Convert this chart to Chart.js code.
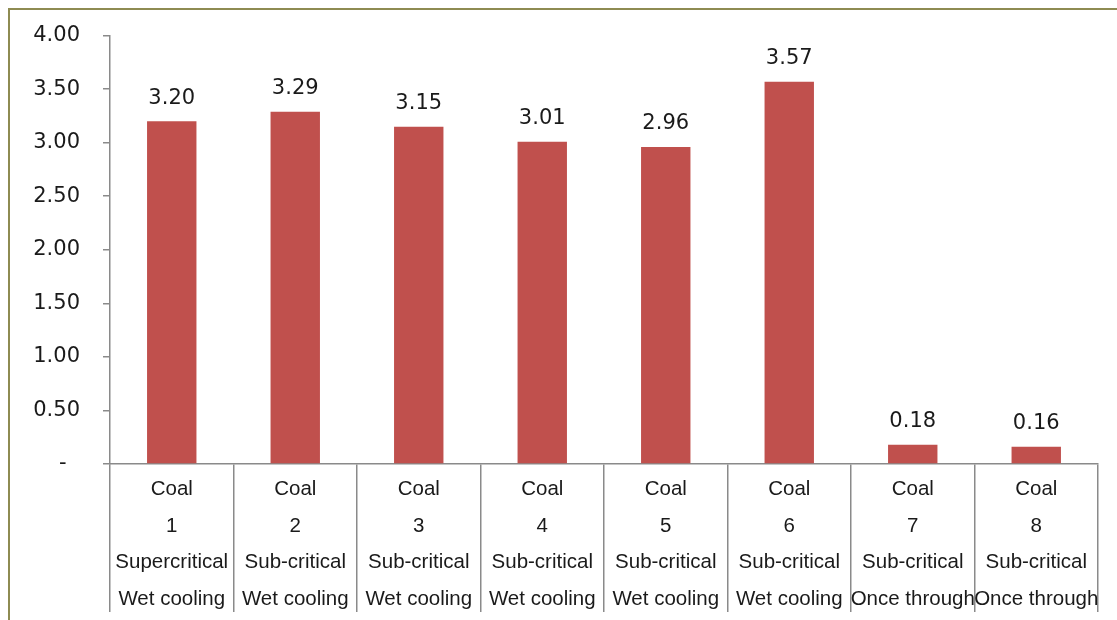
<!DOCTYPE html>
<html>
<head>
<meta charset="utf-8">
<script src="https://cdn.jsdelivr.net/npm/chart.js@4/dist/chart.umd.min.js"></script>
<style>
  body { margin: 0; background: #fff; }
  #wrap { position: relative; width: 1117px; height: 620px; overflow: hidden; }
  #frame {
    position: absolute; left: 8px; top: 8px; width: 1200px; height: 700px;
    border-top: 2px solid #8e8b52; border-left: 2px solid #8e8b52;
  }
  canvas { position: absolute; left: 0; top: 0; }
</style>
</head>
<body>
<div id="wrap">
  <div id="frame"></div>
  <canvas id="chart" width="1117" height="620"></canvas>
</div>
<script>
var fuels = ["Coal", "Coal", "Coal", "Coal", "Coal", "Coal", "Coal", "Coal"];
var units = ["1", "2", "3", "4", "5", "6", "7", "8"];
var boilers = ["Supercritical", "Sub-critical", "Sub-critical", "Sub-critical",
               "Sub-critical", "Sub-critical", "Sub-critical", "Sub-critical"];
var cooling = ["Wet cooling", "Wet cooling", "Wet cooling", "Wet cooling",
               "Wet cooling", "Wet cooling", "Once through", "Once through"];
var values = [3.20, 3.29, 3.15, 3.01, 2.96, 3.57, 0.18, 0.16];

var labels = fuels.map(function (f, i) {
  return [f, units[i], boilers[i], cooling[i]];
});

var axisColor = "#8a8a8a";
var numFont = "DejaVu Sans";

// value printed above each bar
var barValues = {
  id: "barValues",
  afterDatasetsDraw: function (chart) {
    var ctx = chart.ctx;
    var meta = chart.getDatasetMeta(0);
    ctx.save();
    ctx.font = "21px '" + numFont + "'";
    ctx.fillStyle = "#1a1a1a";
    ctx.textAlign = "center";
    ctx.textBaseline = "middle";
    meta.data.forEach(function (bar, i) {
      ctx.fillText(values[i].toFixed(2), bar.x, bar.y - 23);
    });
    ctx.restore();
  }
};

var ctx = document.getElementById("chart").getContext("2d");
new Chart(ctx, {
  type: "bar",
  data: {
    labels: labels,
    datasets: [{
      data: values,
      backgroundColor: "#c0504d",
      categoryPercentage: 1,
      barPercentage: 0.4
    }]
  },
  options: {
    responsive: false,
    animation: false,
    layout: { padding: { top: 35, right: 19, bottom: 0, left: 0 } },
    plugins: {
      legend: { display: false },
      tooltip: { enabled: false }
    },
    scales: {
      x: {
        offset: true,
        afterFit: function (scale) { scale.height = 156; },
        border: { display: true, color: axisColor, width: 1.5 },
        grid: {
          offset: true,
          drawOnChartArea: false,
          drawTicks: true,
          tickLength: 148,
          color: axisColor,
          lineWidth: 1.5
        },
        ticks: {
          autoSkip: false,
          maxRotation: 0,
          padding: -141.5,
          color: "#1a1a1a",
          font: { family: "Liberation Sans", size: 20.5, lineHeight: 1.8 }
        }
      },
      y: {
        min: 0,
        max: 4,
        afterFit: function (scale) { scale.width = 110; },
        border: { display: true, color: axisColor, width: 1.5 },
        grid: {
          drawOnChartArea: false,
          drawTicks: true,
          tickLength: 7,
          color: axisColor,
          lineWidth: 1.5
        },
        ticks: {
          stepSize: 0.5,
          padding: 23,
          color: "#1a1a1a",
          font: { family: numFont, size: 21 },
          callback: function (v) { return v === 0 ? "-  " : v.toFixed(2); }
        }
      }
    }
  },
  plugins: [barValues]
});
</script>
</body>
</html>
